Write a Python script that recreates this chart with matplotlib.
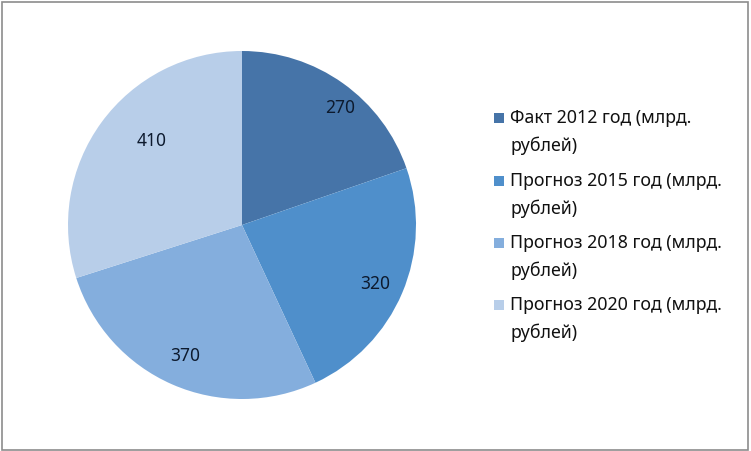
import numpy as np
import matplotlib.pyplot as plt
from matplotlib.patches import Rectangle

# данные
labels = ['Факт 2012 год (млрд.\nрублей)', 'Прогноз 2015 год (млрд.\nрублей)',
          'Прогноз 2018 год (млрд.\nрублей)', 'Прогноз 2020 год (млрд.\nрублей)']
values = [270, 320, 370, 410]
colors = ['#4674A8', '#4F8FCB', '#84AEDD', '#B8CEE9']

plt.rcParams['font.family'] = ['Noto Sans', 'DejaVu Sans']

fig = plt.figure(figsize=(7.51, 4.51), dpi=100)
ax = fig.add_axes([68 / 751, 52 / 451, 348 / 751, 348 / 451])

wedges, _ = ax.pie(values, colors=colors, startangle=90, counterclock=False,
                   radius=1.0, wedgeprops=dict(linewidth=0))
ax.set_xlim(-1, 1)
ax.set_ylim(-1, 1)
ax.set_aspect('equal')

# подписи значений (как в Excel, чуть смещены)
label_r = [0.88, 0.84, 0.82, 0.71]
label_da = [-4.5, -1, 0, -7]
for w, v, r, da in zip(wedges, values, label_r, label_da):
    ang = np.deg2rad((w.theta1 + w.theta2) / 2 + da)
    ax.text(r * np.cos(ang), r * np.sin(ang), str(v), ha='center', va='center',
            fontsize=12.5, color='#0d1a2e')

# легенда
ys = [118, 181, 243, 305]
for lab, c, y in zip(labels, colors, ys):
    fig.patches.append(Rectangle((494 / 751, 1 - (y + 5) / 451), 10 / 751, 10 / 451,
                                 transform=fig.transFigure, facecolor=c, edgecolor='none'))
    l1, l2 = lab.split('\n')
    fig.text(510 / 751, 1 - y / 451, l1, ha='left', va='center', fontsize=12.8, color='#111111')
    fig.text(510 / 751, 1 - (y + 28) / 451, l2, ha='left', va='center', fontsize=12.8, color='#111111')

# рамка
fig.patches.append(Rectangle((0.002, 0.003), 0.994, 0.993, transform=fig.transFigure,
                             fill=False, edgecolor='#8c8c8c', linewidth=1.2))

fig.savefig('out.png', dpi=100, facecolor='white')
